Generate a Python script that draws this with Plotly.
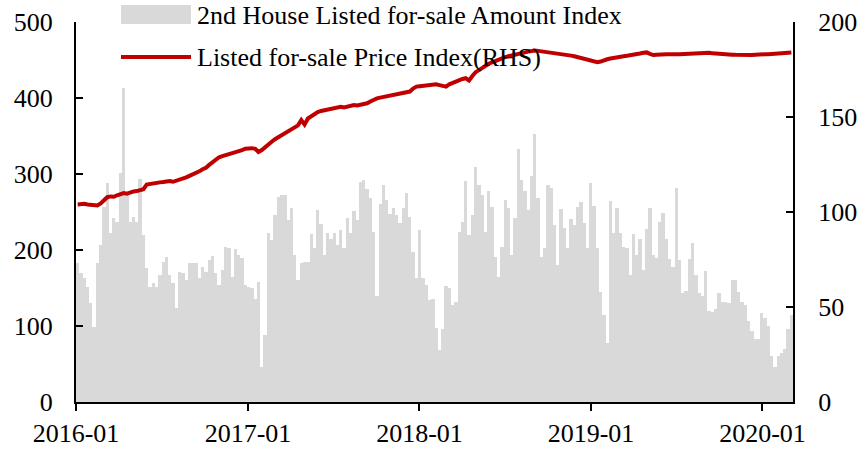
import pandas as pd
import plotly.graph_objects as go

# ---------------- data ----------------
start_date = "2016-01-01"

amount_index = [
    # 2016
    183, 170, 163, 151, 130, 99, 183, 207, 256, 288, 223, 242, 237, 301, 413, 276, 237, 243, 237, 294,
    220, 176, 151, 156, 151, 167, 184, 191, 167, 156, 124, 171, 170, 161, 183, 183,
    183, 163, 178, 171, 187, 192, 170, 154, 174, 204, 202, 165, 201, 193, 189, 154, 151, 150, 136, 158,
    # 2017
    46, 88, 222, 213, 246, 270, 272, 272, 239, 255, 193, 161, 183, 184, 184, 221, 202,
    252, 234, 194, 223, 215, 223, 206, 226, 203, 242, 223, 251, 239, 290, 292, 280, 268, 224, 139,
    261, 285, 266, 247, 255, 246, 235, 255, 275, 244, 198, 163, 226, 163, 154, 134, 136,
    # 2018
    97, 68, 96, 152, 150, 128, 132, 224, 237, 291, 220, 246, 309, 286, 272, 224, 277, 257, 191, 165,
    204, 266, 255, 193, 242, 333, 292, 277, 253, 297, 352, 268, 191, 202, 286, 282, 233,
    180, 254, 229, 203, 241, 233, 257, 263, 235, 203,
    # 2019
    288, 258, 203, 145, 114, 77, 264, 223, 255, 223, 204, 202, 167, 221, 193, 214, 174, 228, 255, 194,
    190, 237, 249, 214, 188, 178,
    281, 187, 144, 146, 188, 209, 167, 143, 140, 173, 120, 119, 123, 143, 132, 131, 130, 161, 161, 145,
    131, 128, 107, 93, 83,
    # 2020
    83, 117, 111, 100, 60, 46, 60, 64, 70, 96, 114,
]

price_index = [
    104, 104.2, 104.3, 104, 103.8, 103.2, 103.4, 104.5, 106, 107.8,
    108.2, 108, 108.8, 109.5, 110, 109.6, 110.4, 110.8, 111, 111.5,
    112, 114.4, 114.8, 115.2, 115.4, 115.6, 115.8, 116, 116.3, 115.9,
    116.4, 116.8, 117.4, 118.2, 119, 119.8, 120.3, 121.4, 122.5, 123.3,
    124.8, 126.3, 127.6, 128.8, 129.4, 129.9, 130.5, 131, 131.2, 131.8,
    132.6, 133.3, 133.5, 133.6, 133.2, 131.6, 132.6, 134.3, 135.8, 137,
    138.3, 139.4, 140.4, 141.4, 142.6, 143.6, 144.6, 145.6, 148.4, 146,
    149.2, 150.4, 151.6, 152.6, 153.2, 153.6, 154, 154.3, 154.6, 155.2,
    155.4, 155, 155.6, 156, 156.3, 156.1, 156.5, 156.7, 157.2, 158.2,
    159.2, 159.8, 160.2, 160.6, 161, 161.3, 161.6, 162, 162.2, 162.6,
    163, 163.4, 165, 166, 166.2, 166.4, 166.6, 166.8, 167, 167.2,
    166.8, 166.6, 166, 167.2, 168, 168.6, 169.4, 170, 170.4, 169.2,
    171.6, 173.6, 174.7, 176, 177.2, 178, 178.8, 179.6, 180.3, 180.9,
    181.5, 182, 182.5, 183, 183.3, 183.5, 184, 184.4, 184.8, 185,
    184.8, 184.6, 184.3, 184, 183.8, 183.5, 183.4, 183.2, 182.9, 182.6,
    182.3, 182, 181.6, 181.2, 180.8, 180.5, 179.9, 179.3, 178.8, 179.2,
    180, 180.4, 180.8, 181.2, 181.5, 181.7, 182, 182.2, 182.4, 182.6,
    183, 183.4, 183.8, 184, 183.2, 182.6, 182.8, 183, 183, 183,
    183, 183.2, 183, 183, 183.1, 183, 183.2, 183.4, 183.4, 183.6,
    183.8, 184, 183.8, 183.5, 183.3, 183.1, 183, 183, 182.9, 182.8,
    182.7, 182.6, 182.4, 182.3, 182.4, 182.6, 182.8, 183, 183, 183,
    183, 183.1, 183.3, 183.4, 183.6, 183.8, 184, 184,
]

tick_dates = ["2016-01-01", "2017-01-01", "2018-01-01", "2019-01-01", "2020-01-01"]
tick_labels = ["2016-01", "2017-01", "2018-01", "2019-01", "2020-01"]

bar_name = "2nd House Listed for-sale Amount Index"
line_name = "Listed for-sale Price Index(RHS)"

# ---------------- build ----------------
n = min(len(amount_index), len(price_index))
amount_index = amount_index[:n]
price_index = price_index[:n]
week = pd.Timedelta(days=7)
weeks = pd.date_range(start_date, periods=n, freq="7D") + pd.Timedelta(hours=84)
x_end = pd.Timestamp(start_date) + n * week

FONT = "Liberation Serif, Times New Roman, serif"
BAR_C = "#D9D9D9"
LINE_C = "#C00000"

fig = go.Figure()
fig.add_trace(go.Bar(
    x=weeks, y=amount_index, name=bar_name,
    width=week.total_seconds() * 1000,
    marker=dict(color=BAR_C, line=dict(width=0)),
    yaxis="y", showlegend=False,
))
fig.add_trace(go.Scatter(
    x=weeks, y=price_index, name=line_name, mode="lines",
    line=dict(color=LINE_C, width=4),
    yaxis="y2", showlegend=False,
))

W, H = 865, 449
L, R, T, B = 76, 72, 22, 47
pw, ph = W - L - R, H - T - B


def px(x):
    return (x - L) / pw


def py(y):
    return (H - B - y) / ph


# legend drawn as shapes + text (wide symbols as in the reference)
fig.add_shape(type="rect", xref="paper", yref="paper",
              x0=px(121), x1=px(191), y0=py(24), y1=py(5),
              fillcolor=BAR_C, line=dict(width=0), layer="above")
fig.add_shape(type="line", xref="paper", yref="paper",
              x0=px(121), x1=px(191), y0=py(57), y1=py(57),
              line=dict(color=LINE_C, width=4), layer="above")
fig.add_annotation(xref="paper", yref="paper", x=px(195), y=py(15),
                   text=bar_name, showarrow=False, xanchor="left", yanchor="middle",
                   font=dict(family=FONT, size=26, color="black"))
fig.add_annotation(xref="paper", yref="paper", x=px(195), y=py(58),
                   text=line_name, showarrow=False, xanchor="left", yanchor="middle",
                   font=dict(family=FONT, size=26, color="black"))

axis_common = dict(showgrid=False, zeroline=False, showline=True, linecolor="black",
                   linewidth=2, tickcolor="black", tickwidth=2, ticklen=7,
                   automargin=False,
                   tickfont=dict(family=FONT, size=26, color="black"))

fig.update_layout(
    width=W, height=H,
    margin=dict(l=L, r=R, t=T, b=B, pad=0, autoexpand=False),
    paper_bgcolor="white", plot_bgcolor="white",
    bargap=0,
    hovermode=False,
    xaxis=dict(range=[pd.Timestamp(start_date), x_end], type="date",
               tickvals=tick_dates, ticktext=tick_labels, ticks="outside",
               **axis_common),
    yaxis=dict(range=[0, 500], dtick=100, tick0=0, ticks="inside",
               ticklabelstandoff=16, **axis_common),
    yaxis2=dict(range=[0, 200], dtick=50, tick0=0, ticks="inside", side="right",
                overlaying="y", anchor="x", ticklabelstandoff=18, **axis_common),
    showlegend=False,
)

page_css = ("document.documentElement.style.margin='0';"
            "document.documentElement.style.padding='0';"
            "document.documentElement.style.overflow='hidden';"
            "document.body.style.margin='0';"
            "document.body.style.padding='0';"
            "document.body.style.overflow='hidden';")

fig.write_html("out.html", post_script=page_css,
               config={"displayModeBar": False, "staticPlot": True})
